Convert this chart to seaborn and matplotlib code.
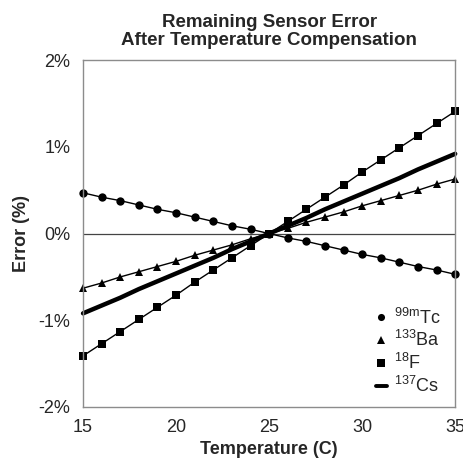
import numpy as np
import pandas as pd
import seaborn as sns
from matplotlib import pyplot as plt
from matplotlib.ticker import FuncFormatter

sns.set_style("white")
plt.rcParams["font.family"] = ["Liberation Sans", "DejaVu Sans"]
plt.rcParams["mathtext.fontset"] = "custom"
plt.rcParams["mathtext.rm"] = "Liberation Sans"
plt.rcParams["axes.unicode_minus"] = False

# temperature (C)
temperature = list(range(15, 36))

# remaining error (%) per isotope
tc99m = [0.47, 0.42, 0.38, 0.33, 0.28, 0.24, 0.19, 0.14, 0.09, 0.05, 0.00,
         -0.05, -0.09, -0.14, -0.19, -0.24, -0.28, -0.33, -0.38, -0.42, -0.47]
ba133 = [-0.63, -0.57, -0.50, -0.44, -0.38, -0.32, -0.25, -0.19, -0.13, -0.06, 0.00,
         0.06, 0.13, 0.19, 0.25, 0.32, 0.38, 0.44, 0.50, 0.57, 0.63]
f18 = [-1.41, -1.27, -1.13, -0.99, -0.85, -0.71, -0.56, -0.42, -0.28, -0.14, 0.00,
       0.14, 0.28, 0.42, 0.56, 0.71, 0.85, 0.99, 1.13, 1.27, 1.41]
cs137 = [-0.92, -0.83, -0.74, -0.64, -0.55, -0.46, -0.37, -0.28, -0.18, -0.09, 0.00,
         0.09, 0.18, 0.28, 0.37, 0.46, 0.55, 0.64, 0.74, 0.83, 0.92]

labels = [r"$^{\mathrm{99m}}$Tc", r"$^{\mathrm{133}}$Ba", r"$^{\mathrm{18}}$F", r"$^{\mathrm{137}}$Cs"]
series = [tc99m, ba133, f18, cs137]
markers = ["o", "^", "s", None]
widths = [1.0, 1.0, 1.0, 3.2]

fig = plt.figure(figsize=(4.64, 4.63), dpi=100)
ax = fig.add_axes([0.179, 0.121, 0.802, 0.749])

for lab, vals, mk, lw in zip(labels, series, markers, widths):
    df = pd.DataFrame({"temperature": temperature, "error": vals})
    sns.lineplot(data=df, x="temperature", y="error", ax=ax, color="black",
                 marker=mk, markersize=6, linewidth=lw, label=lab,
                 markeredgewidth=0, clip_on=False)

ax.axhline(0, color="#444444", linewidth=0.9, zorder=0)
ax.set_xlim(15, 35)
ax.set_ylim(-2, 2)
ax.set_xticks([15, 20, 25, 30, 35])
ax.set_yticks([-2, -1, 0, 1, 2])
ax.yaxis.set_major_formatter(FuncFormatter(lambda v, p: f"{v:.0f}%"))
ax.tick_params(axis="both", length=0, labelsize=13)
ax.tick_params(axis="x", pad=9)
ax.tick_params(axis="y", pad=9)

for sp in ax.spines.values():
    sp.set_color("#8c8c8c")
    sp.set_linewidth(1.0)

ax.set_xlabel("Temperature (C)", fontsize=13, fontweight="bold", labelpad=3)
ax.set_ylabel("Error (%)", fontsize=13, fontweight="bold", labelpad=6)
ax.set_title("Remaining Sensor Error\nAfter Temperature Compensation",
             fontsize=13.5, fontweight="bold", pad=11, linespacing=1.05)

leg = ax.legend(loc="lower right", frameon=False, fontsize=13, handlelength=0.6,
                handletextpad=0.4, labelspacing=0.15, borderaxespad=0.4,
                bbox_to_anchor=(1.0, -0.01), markerscale=0.85)
for h in leg.legend_handles[:3]:
    h.set_linestyle("")
leg.legend_handles[3].set_linewidth(2.8)

fig.savefig("out.png", dpi=100)
plt.close()
